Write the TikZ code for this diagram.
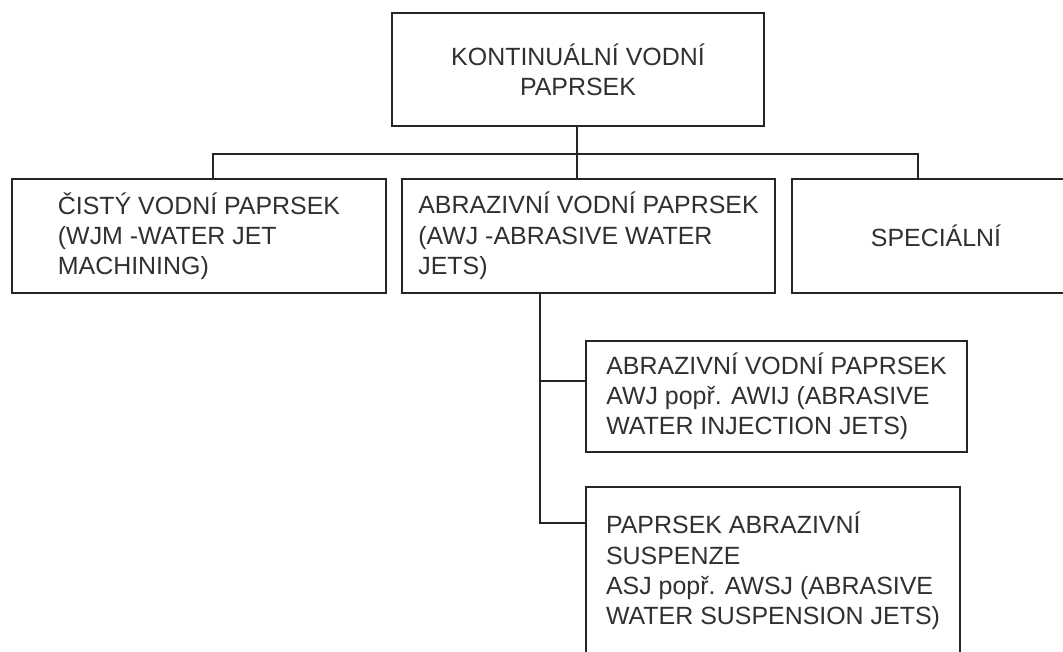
\documentclass[tikz,border=0pt]{standalone}
\usepackage{fontspec}
\setmainfont{Liberation Sans}
\usepackage{tikz}
\newcommand{\pxu}[0]{0.75pt}
\newcommand{\boxFont}[0]{\fontsize{18.7pt}{22.7pt}\selectfont}
\definecolor{boxline}{HTML}{262626}
\definecolor{boxtext}{HTML}{303030}

\begin{document}
\begin{tikzpicture}[x=0.75pt, y=-0.75pt]
  \tikzset{kind/.style={draw=boxline, line width=1.3pt, rectangle, inner sep=0pt,
      align=left, text=boxtext, font=\boxFont}}
  \tikzset{link/.style={draw=boxline, line width=1.3pt}}
  \useasboundingbox (0,0) rectangle (1063,652);
  \clip (0,0) rectangle (1063,652);
  \node[kind, align=center, minimum width=372*\pxu, minimum height=113*\pxu] (kontinualni) at (578,69.5)
    {KONTINUÁLNÍ VODNÍ\\PAPRSEK};
  \node[kind, minimum width=374*\pxu, minimum height=114*\pxu] (cisty) at (199,236)
    {ČISTÝ VODNÍ PAPRSEK\\(WJM -WATER JET\\MACHINING)};
  \node[kind, minimum width=373*\pxu, minimum height=114*\pxu] (abrazivni) at (588.5,236)
    {ABRAZIVNÍ VODNÍ PAPRSEK\\(AWJ -ABRASIVE WATER\\JETS)};
  \node[kind, minimum width=288*\pxu, minimum height=114*\pxu] (specialni) at (936,236)
    {SPECIÁLNÍ};
  \node[kind, minimum width=381*\pxu, minimum height=111*\pxu] (awij) at (776.5,396.5)
    {ABRAZIVNÍ VODNÍ PAPRSEK\\AWJ popř. AWIJ (ABRASIVE\\WATER INJECTION JETS)};
  \node[kind, minimum width=374*\pxu, minimum height=168*\pxu] (awsj) at (773,571)
    {PAPRSEK ABRAZIVNÍ\\SUSPENZE\\ASJ popř. AWSJ (ABRASIVE\\WATER SUSPENSION JETS)};
  \coordinate (busL) at (213,154);
  \coordinate (busM) at (577,154);
  \coordinate (busR) at (918,154);
  \coordinate (stem) at (540,381);
  \coordinate (stemEnd) at (540,523);
  \draw[link] (kontinualni.south -| busM) -- (busM);
  \draw[link] (busL |- cisty.north) -- (busL) -- (busR) -- (busR |- specialni.north);
  \draw[link] (busM) -- (busM |- abrazivni.north);
  \draw[link] (abrazivni.south -| stem) -- (stemEnd) -- (stemEnd -| awsj.west);
  \draw[link] (stem) -- (stem -| awij.west);
\end{tikzpicture}
\end{document}
